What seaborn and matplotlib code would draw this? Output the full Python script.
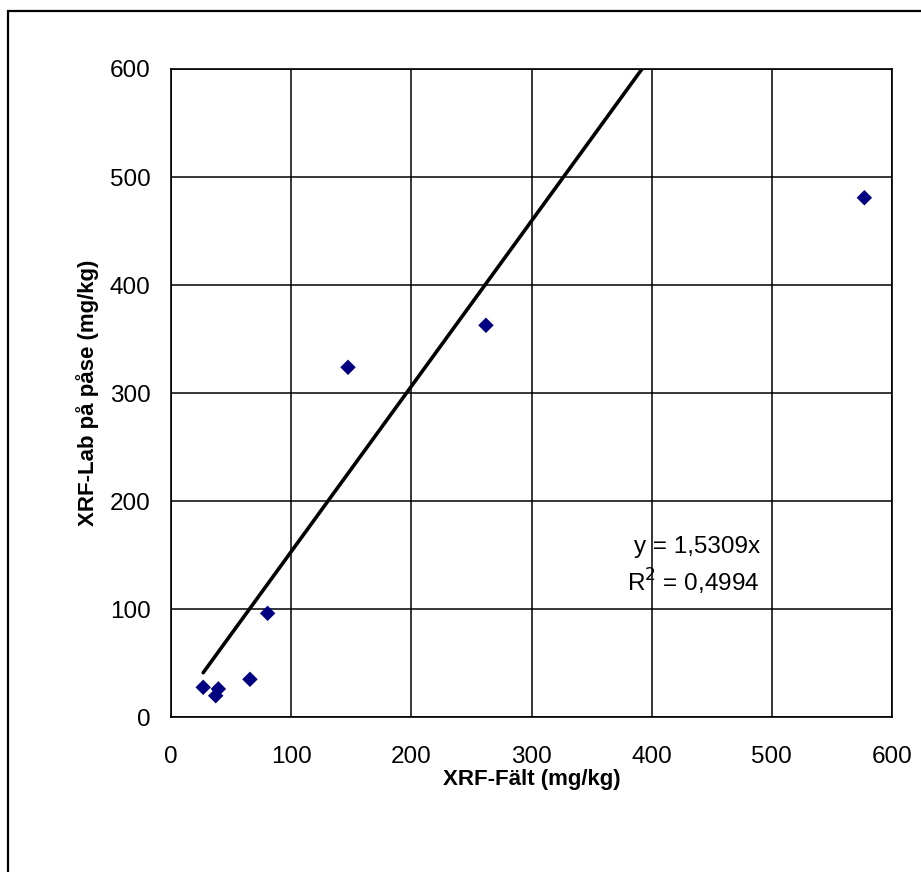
import matplotlib
matplotlib.use("Agg")
import matplotlib.pyplot as plt
from matplotlib.patches import Rectangle
import numpy as np
import pandas as pd
import seaborn as sns

# Measured concentrations (mg/kg)
xrf_falt = [26.8, 39.4, 37.2, 65.7, 80.4, 147.3, 262.1, 577.0]
xrf_lab = [27.5, 26.0, 19.7, 34.9, 96.0, 323.8, 362.7, 480.8]

# Trendline through origin and its fit statistics
slope = 1.5309
r_squared = 0.4994

ticks = [0, 100, 200, 300, 400, 500, 600]

sns.set_theme(style="white")
plt.rcParams["font.family"] = ["Liberation Sans", "DejaVu Sans"]
plt.rcParams["text.color"] = "black"
plt.rcParams["axes.labelcolor"] = "black"

df = pd.DataFrame({"XRF-Fält (mg/kg)": xrf_falt, "XRF-Lab på påse (mg/kg)": xrf_lab})

fig = plt.figure(figsize=(9.21, 8.72), dpi=100)
fig.patch.set_facecolor("white")
ax = fig.add_axes([171 / 921, 1 - 717 / 872, (892 - 171) / 921, (717 - 69) / 872])

# Outer chart frame
fig.add_artist(Rectangle((8 / 921, -0.05), 1.2, 1 - 11 / 872 + 0.05,
                         transform=fig.transFigure, fill=False,
                         edgecolor="black", linewidth=1.6, clip_on=False))

sns.scatterplot(data=df, x="XRF-Fält (mg/kg)", y="XRF-Lab på påse (mg/kg)",
                marker="D", s=62, color="#000080", edgecolor="none",
                ax=ax, zorder=4)

# Linear trendline over the range of the measured values
x_fit = np.array([min(xrf_falt), max(xrf_falt)])
sns.lineplot(x=x_fit, y=slope * x_fit, color="black", linewidth=2.6, ax=ax, zorder=3)

ax.set_xlim(0, 600)
ax.set_ylim(0, 600)
ax.set_xticks(ticks)
ax.set_yticks(ticks)
ax.set_xticklabels([str(t) for t in ticks])
ax.set_yticklabels([str(t) for t in ticks])

ax.grid(True, color="black", linewidth=1.1)
ax.set_axisbelow(True)
for sp in ax.spines.values():
    sp.set_visible(True)
    sp.set_color("black")
    sp.set_linewidth(1.2)

ax.tick_params(axis="both", direction="out", length=5.8, width=1.1,
               color="black", labelsize=17.5, labelcolor="black")
ax.tick_params(axis="x", pad=15)
ax.tick_params(axis="y", pad=9)

ax.set_xlabel("XRF-Fält (mg/kg)", fontsize=16, fontweight="bold", labelpad=0.5,
              color="black")
ax.set_ylabel("XRF-Lab på påse (mg/kg)", fontsize=16, fontweight="bold", labelpad=8,
              color="black")

ax.text(490, 157, f"y = {slope:.4f}x".replace(".", ","),
        ha="right", va="center", fontsize=17.5, color="black")
ax.text(490, 125, f"R$^{2}$ = {r_squared:.4f}".replace(".", ","),
        ha="right", va="center", fontsize=17.5, color="black")

fig.savefig("out.png", dpi=100)
